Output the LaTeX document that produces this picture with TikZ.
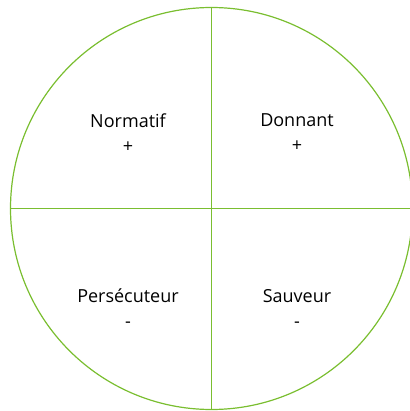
\documentclass[tikz,border=0pt]{standalone}
\usepackage{fontspec}
\setmainfont{Open Sans}
\definecolor{quadgreen}{RGB}{122,190,48}
\usetikzlibrary{positioning}

\begin{document}
\begin{tikzpicture}[x=1pt,y=-1pt,font=\fontsize{18}{25}\selectfont]
    \useasboundingbox (0,0) rectangle (409,411);
    % Circle and axes
    \node[circle, draw=quadgreen, line width=1.2pt, minimum size=402pt, inner sep=0pt] (disc) at (211.5,208.5) {};
    \draw[quadgreen, line width=1.2pt] (disc.north) -- (disc.south);
    \draw[quadgreen, line width=1.2pt] (disc.west) -- (disc.east);
    % Quadrant labels
    \foreach \name/\x/\y/\lbl/\sgn in {
      norm/128/133/Normatif/+,
      donn/297/133/Donnant/+,
      pers/128/308/Persécuteur/-,
      sauv/297/308/Sauveur/-
    }{
      \node[align=center, text=black] (\name) at (\x,\y) {\lbl\\\sgn};
    }
\end{tikzpicture}
\end{document}
